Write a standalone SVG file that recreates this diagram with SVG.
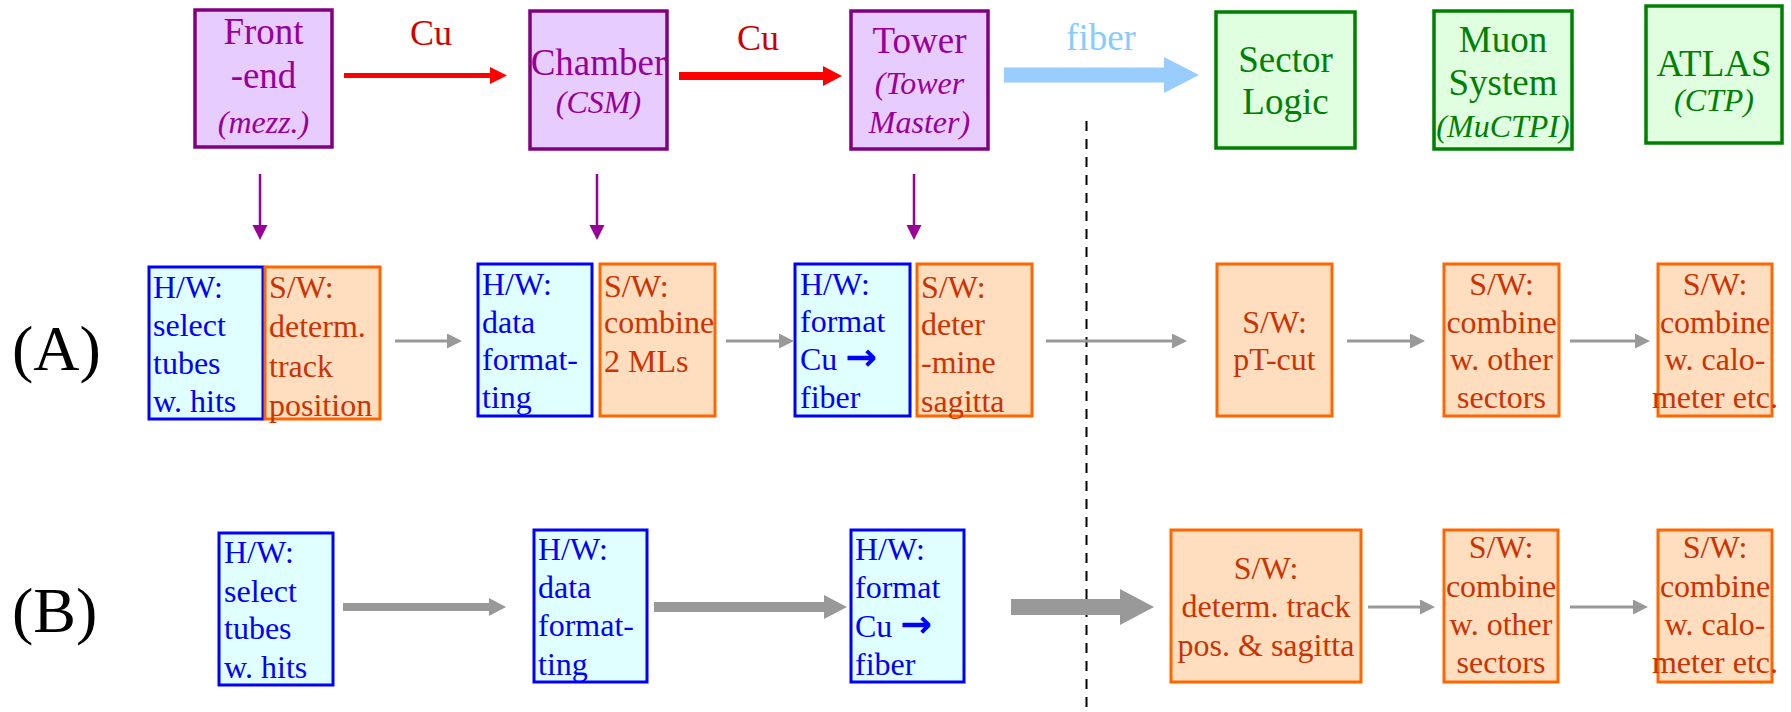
<svg xmlns="http://www.w3.org/2000/svg" width="1791" height="712" viewBox="0 0 1791 712">
  <defs>
    <style>
      text { font-family: "Liberation Serif", "Times New Roman", serif; }
      .top { fill: #E6CCFF; stroke: #800080; stroke-width: 3.5; }
      .topt { fill: #990099; font-size: 37px; text-anchor: middle; }
      .sys { fill: #E0FFE0; stroke: #008000; stroke-width: 3.5; }
      .syst { fill: #008000; font-size: 37px; text-anchor: middle; }
      .it { font-style: italic; font-size: 32px; }
      .hw { fill: #E0FFFF; stroke: #0000FF; stroke-width: 3; }
      .hwt { fill: #0000FF; font-size: 32px; }
      .sw { fill: #FFDDBF; stroke: #FF6600; stroke-width: 3; }
      .swt { fill: #CC3300; font-size: 32px; }
      .mid { text-anchor: middle; }
      .arr { font-family: "DejaVu Sans", sans-serif; font-weight: bold; font-size: 38px; }
      .lbl { fill: #000000; font-size: 64px; }
      .thin { stroke: #999999; stroke-width: 3; fill: none; }
      .down { stroke: #990099; stroke-width: 2.5; fill: none; }
    </style>
    <marker id="headGray" markerUnits="userSpaceOnUse" markerWidth="16" markerHeight="16" refX="0" refY="7.5" orient="auto">
      <path d="M0,0 L15,7.5 L0,15 z" fill="#999999"/>
    </marker>
    <marker id="headPurple" markerUnits="userSpaceOnUse" markerWidth="16" markerHeight="16" refX="0" refY="7.5" orient="auto">
      <path d="M0,0 L15,7.5 L0,15 z" fill="#990099"/>
    </marker>
  </defs>

  <rect width="1791" height="712" fill="#FFFFFF"/>

  <!-- row labels -->
  <text class="lbl" x="12" y="370">(A)</text>
  <text class="lbl" x="12" y="632">(B)</text>

  <!-- separator between copper and fiber side -->
  <line x1="1086.5" y1="121" x2="1086.5" y2="712" stroke="#000000" stroke-width="2" stroke-dasharray="10 8"/>

  <!-- top chain -->
  <g id="frontend">
    <rect class="top" x="195" y="10" width="137" height="137"/>
    <text class="topt" x="263.5" y="44">Front</text>
    <text class="topt" x="263.5" y="88">-end</text>
    <text class="topt it" x="263.5" y="133">(mezz.)</text>
  </g>
  <g id="chamber">
    <rect class="top" x="530" y="11" width="137" height="138"/>
    <text class="topt" x="598.5" y="75">Chamber</text>
    <text class="topt it" x="598.5" y="113">(CSM)</text>
  </g>
  <g id="tower">
    <rect class="top" x="851" y="11" width="137" height="138"/>
    <text class="topt" x="919.5" y="53">Tower</text>
    <text class="topt it" x="919.5" y="94">(Tower</text>
    <text class="topt it" x="919.5" y="133">Master)</text>
  </g>
  <g id="sectorlogic">
    <rect class="sys" x="1216" y="12" width="139" height="136"/>
    <text class="syst" x="1285.5" y="72">Sector</text>
    <text class="syst" x="1285.5" y="114">Logic</text>
  </g>
  <g id="muonsystem">
    <rect class="sys" x="1434" y="11" width="138" height="138"/>
    <text class="syst" x="1503" y="52">Muon</text>
    <text class="syst" x="1503" y="95">System</text>
    <text class="syst it" x="1503" y="137">(MuCTPI)</text>
  </g>
  <g id="atlas">
    <rect class="sys" x="1646" y="6" width="136" height="137"/>
    <text class="syst" x="1714" y="76">ATLAS</text>
    <text class="syst it" x="1714" y="111">(CTP)</text>
  </g>

  <!-- row A -->
  <g id="a-hw1">
    <rect class="hw" x="149" y="267" width="114" height="152"/>
    <text class="hwt" x="153" y="298">H/W:</text>
    <text class="hwt" x="153" y="336">select</text>
    <text class="hwt" x="153" y="374">tubes</text>
    <text class="hwt" x="153" y="412">w. hits</text>
  </g>
  <g id="a-sw1">
    <rect class="sw" x="265" y="267" width="115" height="152"/>
    <text class="swt" x="269" y="298">S/W:</text>
    <text class="swt" x="269" y="337">determ.</text>
    <text class="swt" x="269" y="377">track</text>
    <text class="swt" x="269" y="416">position</text>
  </g>
  <g id="a-hw2">
    <rect class="hw" x="478" y="264" width="114" height="152"/>
    <text class="hwt" x="482" y="295">H/W:</text>
    <text class="hwt" x="482" y="333">data</text>
    <text class="hwt" x="482" y="370">format-</text>
    <text class="hwt" x="482" y="408">ting</text>
  </g>
  <g id="a-sw2">
    <rect class="sw" x="600" y="264" width="115" height="152"/>
    <text class="swt" x="604" y="297">S/W:</text>
    <text class="swt" x="604" y="333">combine</text>
    <text class="swt" x="604" y="372">2 MLs</text>
  </g>
  <g id="a-hw3">
    <rect class="hw" x="795" y="264" width="115" height="152"/>
    <text class="hwt" x="800" y="295">H/W:</text>
    <text class="hwt" x="800" y="332">format</text>
    <text class="hwt" x="800" y="370">Cu <tspan class="arr">→</tspan></text>
    <text class="hwt" x="800" y="408">fiber</text>
  </g>
  <g id="a-sw3">
    <rect class="sw" x="917" y="264" width="115" height="152"/>
    <text class="swt" x="921" y="298">S/W:</text>
    <text class="swt" x="921" y="335">deter</text>
    <text class="swt" x="921" y="373">-mine</text>
    <text class="swt" x="921" y="412">sagitta</text>
  </g>
  <g id="a-ptcut">
    <rect class="sw" x="1217" y="264" width="115" height="152"/>
    <text class="swt mid" x="1274.5" y="333">S/W:</text>
    <text class="swt mid" x="1274.5" y="370">pT-cut</text>
  </g>
  <g id="a-sectors">
    <rect class="sw" x="1444" y="264" width="115" height="152"/>
    <text class="swt mid" x="1501.5" y="295">S/W:</text>
    <text class="swt mid" x="1501.5" y="333">combine</text>
    <text class="swt mid" x="1501.5" y="370">w. other</text>
    <text class="swt mid" x="1501.5" y="408">sectors</text>
  </g>
  <g id="a-calo">
    <rect class="sw" x="1658" y="264" width="114" height="152"/>
    <text class="swt mid" x="1715" y="295">S/W:</text>
    <text class="swt mid" x="1715" y="333">combine</text>
    <text class="swt mid" x="1715" y="370">w. calo-</text>
    <text class="swt mid" x="1715" y="408">meter etc.</text>
  </g>

  <!-- row B -->
  <g id="b-hw1">
    <rect class="hw" x="219" y="533" width="114" height="152"/>
    <text class="hwt" x="224" y="563">H/W:</text>
    <text class="hwt" x="224" y="602">select</text>
    <text class="hwt" x="224" y="639">tubes</text>
    <text class="hwt" x="224" y="678">w. hits</text>
  </g>
  <g id="b-hw2">
    <rect class="hw" x="534" y="530" width="113" height="152"/>
    <text class="hwt" x="538" y="560">H/W:</text>
    <text class="hwt" x="538" y="598">data</text>
    <text class="hwt" x="538" y="636">format-</text>
    <text class="hwt" x="538" y="675">ting</text>
  </g>
  <g id="b-hw3">
    <rect class="hw" x="851" y="530" width="113" height="152"/>
    <text class="hwt" x="855" y="560">H/W:</text>
    <text class="hwt" x="855" y="598">format</text>
    <text class="hwt" x="855" y="637">Cu <tspan class="arr">→</tspan></text>
    <text class="hwt" x="855" y="675">fiber</text>
  </g>
  <g id="b-track">
    <rect class="sw" x="1171" y="530" width="190" height="152"/>
    <text class="swt mid" x="1266" y="579">S/W:</text>
    <text class="swt mid" x="1266" y="617">determ. track</text>
    <text class="swt mid" x="1266" y="656">pos. &amp; sagitta</text>
  </g>
  <g id="b-sectors">
    <rect class="sw" x="1444" y="530" width="114" height="152"/>
    <text class="swt mid" x="1501" y="558">S/W:</text>
    <text class="swt mid" x="1501" y="597">combine</text>
    <text class="swt mid" x="1501" y="635">w. other</text>
    <text class="swt mid" x="1501" y="673">sectors</text>
  </g>
  <g id="b-calo">
    <rect class="sw" x="1658" y="530" width="114" height="152"/>
    <text class="swt mid" x="1715" y="558">S/W:</text>
    <text class="swt mid" x="1715" y="597">combine</text>
    <text class="swt mid" x="1715" y="635">w. calo-</text>
    <text class="swt mid" x="1715" y="673">meter etc.</text>
  </g>

  <!-- connectors -->
  <g id="connectors">
    <!-- copper links between the top boxes -->
    <text x="431" y="45" fill="#CC0000" font-size="36" text-anchor="middle">Cu</text>
    <line x1="344" y1="75.5" x2="491" y2="75.5" stroke="#FF0000" stroke-width="5"/>
    <polygon points="490,67 507,75.5 490,84" fill="#FF0000"/>
    <text x="758" y="50" fill="#CC0000" font-size="36" text-anchor="middle">Cu</text>
    <line x1="679" y1="76" x2="824" y2="76" stroke="#FF0000" stroke-width="8"/>
    <polygon points="823,66 842,76 823,86" fill="#FF0000"/>
    <!-- fiber link -->
    <text x="1101" y="50" fill="#88CCFF" font-size="37" text-anchor="middle">fiber</text>
    <polygon points="1004,67.5 1164,67.5 1164,57 1199,75 1164,93 1164,82.5 1004,82.5" fill="#99CCFF"/>

    <!-- top boxes down to their tasks -->
    <line class="down" x1="260" y1="174" x2="260" y2="225" marker-end="url(#headPurple)"/>
    <line class="down" x1="597" y1="174" x2="597" y2="225" marker-end="url(#headPurple)"/>
    <line class="down" x1="914" y1="174" x2="914" y2="225" marker-end="url(#headPurple)"/>

    <!-- row A flow -->
    <line class="thin" x1="395" y1="341" x2="447" y2="341" marker-end="url(#headGray)"/>
    <line class="thin" x1="726" y1="341" x2="779" y2="341" marker-end="url(#headGray)"/>
    <line class="thin" x1="1046" y1="341" x2="1172" y2="341" marker-end="url(#headGray)"/>
    <line class="thin" x1="1347" y1="341" x2="1410" y2="341" marker-end="url(#headGray)"/>
    <line class="thin" x1="1570" y1="341" x2="1635" y2="341" marker-end="url(#headGray)"/>

    <!-- row B flow -->
    <line x1="343" y1="607" x2="490" y2="607" stroke="#999999" stroke-width="8"/>
    <polygon points="489,598 506,607 489,616" fill="#999999"/>
    <line x1="654" y1="607" x2="825" y2="607" stroke="#999999" stroke-width="10"/>
    <polygon points="824,595 847,607 824,619" fill="#999999"/>
    <polygon points="1011,599 1120,599 1120,589 1154,607 1120,625 1120,615 1011,615" fill="#999999"/>
    <line class="thin" x1="1368" y1="607" x2="1420" y2="607" marker-end="url(#headGray)"/>
    <line class="thin" x1="1570" y1="607" x2="1633" y2="607" marker-end="url(#headGray)"/>
  </g>
</svg>
